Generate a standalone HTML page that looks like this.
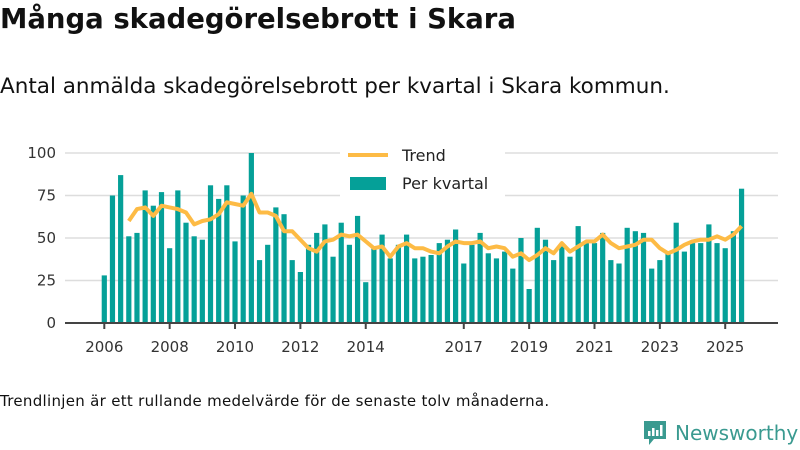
<!DOCTYPE html>
<html><head><meta charset="utf-8"><style>
body{margin:0;width:800px;height:450px;background:#fff;font-family:"DejaVu Sans","Liberation Sans",sans-serif;color:#111;overflow:hidden;position:relative}
.t{position:absolute;left:0;white-space:nowrap}
</style></head><body>
<div class="t" style="top:3px;font-size:27.5px;font-weight:bold;letter-spacing:0px">Många skadegörelsebrott i Skara</div>
<div class="t" style="top:74px;font-size:21.5px;letter-spacing:0px">Antal anmälda skadegörelsebrott per kvartal i Skara kommun.</div>
<svg id="c" width="800" height="450" style="position:absolute;left:0;top:0"></svg>
<div class="t" style="top:392px;font-size:15px;letter-spacing:0.3px">Trendlinjen är ett rullande medelvärde för de senaste tolv månaderna.</div>
<div style="position:absolute;left:643px;top:420px;height:26px;display:flex;align-items:center">
<svg width="24" height="26" viewBox="0 0 24 26"><path d="M1 1h22v18H11l-5 6v-6H1z" fill="#3a9a90"/><rect x="5" y="11" width="2.5" height="5" fill="#fff"/><rect x="9" y="8" width="2.5" height="8" fill="#fff"/><rect x="13" y="10" width="2.5" height="6" fill="#fff"/><rect x="17" y="5" width="2.5" height="11" fill="#fff"/></svg>
<span style="margin-left:8px;font-size:20px;color:#3a9a90;font-weight:500">Newsworthy</span></div>
<script>
const bars=[28,75,87,51, 53,78,69,77, 44,78,59,51, 49,81,73,81, 48,75,100,37, 46,68,64,37, 30,46,53,58,
39,59,46,63, 24,44,52,38, 46,52,38,39, 40,47,49,55, 35,46,53,41, 38,42,32,50, 20,56,49,37,
45,39,57,47, 47,53,37,35, 56,54,53,32, 37,41,59,42, 47,47,58,47, 44,54,79];
const trend=[null,null,null,60,67,68,63,69,68,67,65,58,60,61,64,71,70,69,76,65,65,63,54,54,49,44,42,48,
49,52,51,52,48,44,45,39,45,47,44,44,42,41,45,48,47,47,48,44,45,44,39,41,37,40,44,
41,47,42,45,48,48,52,47,44,45,46,49,49,44,41,43,46,48,49,49,51,49,52,57];
const yTicks=[0,25,50,75,100];
const xTickYears=[2006,2008,2010,2012,2014,2017,2019,2021,2023,2025];
const svg=document.getElementById('c'),NS='http://www.w3.org/2000/svg';
const x=i=>104.3+i*8.17, y=v=>323-v*1.7, xy=yr=>x((yr-2006)*4);
function mk(t,a){const e=document.createElementNS(NS,t);for(const k in a)e.setAttribute(k,a[k]);svg.appendChild(e);return e;}
yTicks.forEach(v=>{
 const g=mk('line',{x1:65,x2:778,y1:y(v),y2:y(v),stroke:v?'#ddd':'#444','stroke-width':v?1.5:2});
 
 
 const t=mk('text',{x:56,y:y(v)+5,'text-anchor':'end','font-size':15,fill:'#333','font-family':'DejaVu Sans,sans-serif'});t.textContent=v;
 
 
});
bars.forEach((v,i)=>{
 const r=mk('rect',{x:x(i)-2.6,y:y(v),width:5.2,height:v*1.7,fill:'#05a098'});
 
 
});
mk('line',{x1:65,x2:778,y1:323,y2:323,stroke:'#444','stroke-width':2});
xTickYears.forEach(yr=>{
 const l=mk('line',{x1:xy(yr),x2:xy(yr),y1:323,y2:329,stroke:'#444','stroke-width':2});
 
 
 const t=mk('text',{x:xy(yr),y:352,'text-anchor':'middle','font-size':15,fill:'#333','font-family':'DejaVu Sans,sans-serif'});t.textContent=yr;
 
 
});
let d='';trend.forEach((v,i)=>{if(v==null)return;d+=(d?'L':'M')+x(i)+','+y(v);});
const p=mk('path',{d:d,fill:'none',stroke:'#fdbb45','stroke-width':4,'stroke-linejoin':'round'});


const lb=mk('rect',{x:340,y:140,width:165,height:58,fill:'#fff'});


mk('line',{x1:348,x2:388,y1:155,y2:155,stroke:'#fdbb45','stroke-width':4});
mk('rect',{x:350,y:177,width:36,height:13,fill:'#05a098'});
const t1=mk('text',{x:402,y:161,'font-size':16,fill:'#222','font-family':'DejaVu Sans,sans-serif'});t1.textContent='Trend';


const t2=mk('text',{x:402,y:189,'font-size':16,fill:'#222','font-family':'DejaVu Sans,sans-serif'});t2.textContent='Per kvartal';


</script>
</body></html>
